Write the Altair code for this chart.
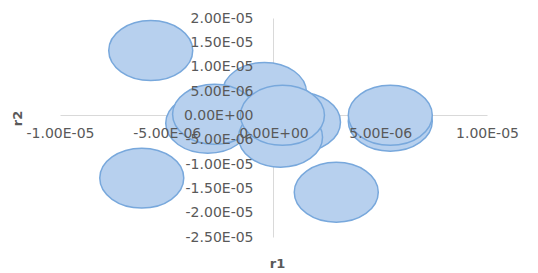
import altair as alt
import pandas as pd

# data
r1 = [-5.75e-6, -6.17e-6, 2.94e-6, 5.47e-6, 5.47e-6, -4.2e-7, -3.08e-6, -2.76e-6, 1.17e-6, 3.3e-7, 4.2e-7]
r2 = [1.33e-5, -1.29e-5, -1.58e-5, -1.2e-6, 0.0, 4.7e-6, -1.64e-6, 2.0e-7, -1.4e-6, -4.5e-6, 0.0]

x_ticks = [-1e-5, -5e-6, 0.0, 5e-6, 1e-5]
x_labels = ["-1.00E-05", "-5.00E-06", "0.00E+00", "5.00E-06", "1.00E-05"]
y_ticks = [2e-5, 1.5e-5, 1e-5, 5e-6, 0.0, -5e-6, -1e-5, -1.5e-5, -2e-5, -2.5e-5]
y_labels = ["2.00E-05", "1.50E-05", "1.00E-05", "5.00E-06", "0.00E+00",
            "-5.00E-06", "-1.00E-05", "-1.50E-05", "-2.00E-05", "-2.50E-05"]

df = pd.DataFrame({"r1": r1, "r2": r2, "order": list(range(len(r1)))})


def label_expr(vals, labs):
    parts = [f"round(datum.value*1e7)=={round(v * 1e7)} ? '{l}'" for v, l in zip(vals, labs)]
    return " : ".join(parts) + " : ''"


W, H = 427, 219
XOFF = -213  # y-axis at x = 0
YOFF = -122  # x-axis at y = 0
TXT = "#595959"
FONT = "DejaVu Sans"

ellipse = ("M 1 0 C 1 0.394 0.552 0.714 0 0.714 C -0.552 0.714 -1 0.394 -1 0 "
           "C -1 -0.394 -0.552 -0.714 0 -0.714 C 0.552 -0.714 1 -0.394 1 0 Z")

xscale = alt.Scale(domain=[-1e-5, 1e-5], nice=False, zero=False)
yscale = alt.Scale(domain=[-2.5e-5, 2e-5], nice=False, zero=False)

# layer with axis lines (behind marks) and the markers
pts = alt.Chart(df).mark_point(
    shape=ellipse, size=7056, filled=True, fill="#b7d0ee", fillOpacity=1,
    stroke="#78a8dc", strokeWidth=1.5, opacity=1
).encode(
    x=alt.X("r1:Q", scale=xscale,
            axis=alt.Axis(orient="bottom", offset=YOFF, values=x_ticks, labels=False,
                          ticks=False, grid=False, domainColor="#d9d9d9", title=None,
                          zindex=0)),
    y=alt.Y("r2:Q", scale=yscale,
            axis=alt.Axis(orient="left", offset=XOFF, values=y_ticks, labels=False,
                          ticks=False, grid=False, domainColor="#d9d9d9", title=None,
                          zindex=0)),
    order="order:O",
)

# layer carrying the labels, drawn on top of the markers
lab = alt.Chart(df).mark_point(opacity=0).encode(
    x=alt.X("r1:Q", scale=xscale,
            axis=alt.Axis(orient="bottom", offset=YOFF, values=x_ticks, domain=False,
                          ticks=False, grid=False, labelExpr=label_expr(x_ticks, x_labels),
                          labelFont=FONT, labelFontSize=14, labelColor=TXT,
                          labelPadding=11, labelFlush=False, labelOverlap=False,
                          title="r1", titleFont=FONT, titleFontSize=13, titleColor=TXT,
                          titleFontWeight="bold", titleX=217, titleY=148,
                          titleBaseline="middle", titleAlign="center", zindex=1)),
    y=alt.Y("r2:Q", scale=yscale,
            axis=alt.Axis(orient="left", offset=XOFF, values=y_ticks, domain=False,
                          ticks=False, grid=False, labelExpr=label_expr(y_ticks, y_labels),
                          labelFont=FONT, labelFontSize=14, labelColor=TXT,
                          labelPadding=20, labelFlush=False, labelOverlap=False,
                          title="r2", titleFont=FONT, titleFontSize=13, titleColor=TXT,
                          titleFontWeight="bold", titleX=-256, titleY=100,
                          titleBaseline="middle", titleAlign="center", titleAngle=-90,
                          zindex=1)),
)

chart = alt.layer(pts, lab).resolve_axis(x="independent", y="independent").properties(
    width=W, height=H,
    autosize=alt.AutoSizeParams(type="none"),
    padding={"left": 52, "top": 10, "right": 43, "bottom": 34},
).configure_view(stroke=None)

chart.save("out.html", embed_options={"renderer": "svg", "actions": False})
